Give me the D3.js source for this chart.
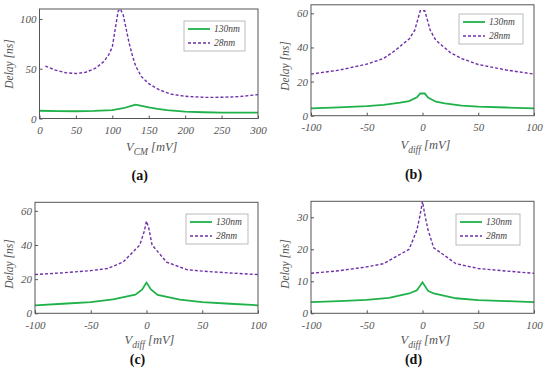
<!DOCTYPE html>
<html>
<head>
<meta charset="utf-8">
<script src="https://cdn.jsdelivr.net/npm/d3@7"></script>
<style>
  html, body { margin: 0; padding: 0; background: #fff; }
  svg { display: block; }
</style>
</head>
<body>
<div id="chart"></div>
<script>
// ---- data ----
const seriesNames = ["130nm", "28nm"];

// (a) delay vs V_CM
const vcmA130 = [0, 25, 50, 75, 100, 115, 125, 132, 140, 150, 162, 175, 200, 225, 250, 275, 300];
const delayA130 = [7.8, 7.5, 7.3, 7.6, 8.4, 10.3, 12.5, 14, 12.8, 11.2, 9.6, 8.4, 7, 6.3, 6, 5.9, 5.9];
const vcmA28 = [8, 22, 36, 50, 63, 77, 88, 95, 100, 104, 108, 111, 115, 119, 123, 128, 132, 140, 150, 164, 180, 200, 228, 250, 274, 300];
const delayA28 = [52.7, 48.6, 46, 45.2, 46.3, 50.5, 57, 64, 72, 90, 108, 110, 104, 90, 76, 62, 52.7, 42, 35, 29, 24.5, 22.3, 21.2, 21.3, 22, 24];

// (b) delay vs V_diff
const vdiffB130 = [-100, -75, -50, -35, -20, -12, -5, -2, 2, 5, 12, 20, 35, 50, 75, 100];
const delayB130 = [4.3, 4.9, 5.6, 6.4, 7.6, 8.6, 10.8, 13, 13, 10.6, 8.2, 7.2, 5.9, 5.3, 4.8, 4.3];
const vdiffB28 = [-100, -75, -50, -35, -25, -12, -7, -4, -2, 2, 4, 7, 12, 25, 35, 50, 75, 100];
const delayB28 = [24.4, 26.7, 30.2, 33.5, 38, 45, 50, 57, 61.5, 61.5, 57, 50, 44.2, 37, 33.5, 30, 26.8, 24.4];

// (c)
const vdiffC130 = [-100, -75, -50, -30, -10, -4, 0, 4, 10, 30, 50, 75, 100];
const delayC130 = [4.7, 5.6, 6.6, 8.2, 10.9, 13.8, 18, 14, 10.8, 8, 6.6, 5.6, 4.7];
const vdiffC28 = [-100, -75, -50, -35, -21, -6, -2, 0, 2, 5, 18, 36, 50, 75, 100];
const delayC28 = [22.7, 23.7, 25, 26.2, 30, 40, 48, 54, 50, 40, 30, 25.6, 24.7, 23.6, 22.7];

// (d)
const vdiffD130 = [-100, -75, -50, -30, -12, -5, 0, 5, 10, 30, 50, 75, 100];
const delayD130 = [3.5, 3.8, 4.2, 4.8, 6.2, 7.2, 9.7, 7, 6.2, 4.7, 4.1, 3.8, 3.5];
const vdiffD28 = [-100, -75, -50, -35, -12, -5, -2, 0, 2, 5, 10, 30, 50, 75, 100];
const delayD28 = [12.5, 13.3, 14.5, 15.5, 20, 26, 31, 35, 31, 26, 20.5, 15.5, 14, 13.2, 12.5];

// tick labels
const xTicksVcm = [0, 50, 100, 150, 200, 250, 300];
const xTicksVdiff = [-100, -50, 0, 50, 100];
const yTicksA = [0, 50, 100];
const yTicksBC = [0, 20, 40, 60];
const yTicksD = [0, 10, 20, 30];

// ---- layout ----
const width = 550, height = 382;
const green = "#1fb14a", purple = "#6f2fa8";
const serif = "'Liberation Serif', 'DejaVu Serif', serif";

const panels = [
  { tag: "a", box: [39.5, 258, 9, 118.5], xDomain: [0, 300], yDomain: [0, 110],
    xTicks: xTicksVcm, yTicks: yTicksA, xSub: "CM",
    s130: [vcmA130, delayA130], s28: [vcmA28, delayA28],
    legend: [184, 21, 61, 30], titleY: 151, capY: 180, ylabX: 13, ylabY: 64 },
  { tag: "b", box: [311, 534, 4.8, 115.7], xDomain: [-100, 100], yDomain: [0, 65],
    xTicks: xTicksVdiff, yTicks: yTicksBC, xSub: "diff",
    s130: [vdiffB130, delayB130], s28: [vdiffB28, delayB28],
    legend: [459, 14, 64, 30], titleY: 149, capY: 179, ylabX: 289, ylabY: 66 },
  { tag: "c", box: [35, 258, 202.3, 313.3], xDomain: [-100, 100], yDomain: [0, 65],
    xTicks: xTicksVdiff, yTicks: yTicksBC, xSub: "diff",
    s130: [vdiffC130, delayC130], s28: [vdiffC28, delayC28],
    legend: [186, 214, 62, 30], titleY: 344, capY: 364, ylabX: 13, ylabY: 264 },
  { tag: "d", box: [311, 534, 201.3, 313.3], xDomain: [-100, 100], yDomain: [0, 35],
    xTicks: xTicksVdiff, yTicks: yTicksD, xSub: "diff",
    s130: [vdiffD130, delayD130], s28: [vdiffD28, delayD28],
    legend: [456, 214, 64, 31], titleY: 344, capY: 364, ylabX: 289, ylabY: 264 }
];

const svg = d3.select("#chart").append("svg")
    .attr("width", width)
    .attr("height", height)
    .attr("viewBox", [0, 0, width, height])
    .attr("font-family", serif);

function drawPanel(p) {
  const [x0, x1, y0, y1] = p.box;
  const x = d3.scaleLinear().domain(p.xDomain).range([x0, x1]);
  const y = d3.scaleLinear().domain(p.yDomain).range([y1, y0]);
  const g = svg.append("g");

  // axes: inward ticks, italic grey labels, plain hyphen minus
  const fmt = d => String(d);
  const xAxis = g.append("g")
      .attr("transform", `translate(0,${y1})`)
      .call(d3.axisBottom(x).tickValues(p.xTicks).tickFormat(fmt).tickSize(-3).tickPadding(8));
  const yAxis = g.append("g")
      .attr("transform", `translate(${x0},0)`)
      .call(d3.axisLeft(y).tickValues(p.yTicks).tickFormat(fmt).tickSize(-3).tickPadding(3));
  [xAxis, yAxis].forEach(a => {
    a.attr("font-family", serif);
    a.select(".domain").remove();
    a.selectAll("line").attr("stroke", "#555");
    a.selectAll("text")
        .attr("font-style", "italic")
        .attr("font-size", 11)
        .attr("fill", "#555");
  });

  // curves
  const line = d3.line().x(d => x(d[0])).y(d => y(d[1]));
  const pts = s => s[0].map((v, i) => [v, s[1][i]]);

  g.append("path")
      .attr("d", line(pts(p.s28)))
      .attr("fill", "none")
      .attr("stroke", purple)
      .attr("stroke-width", 1.4)
      .attr("stroke-dasharray", "3,2");
  g.append("path")
      .attr("d", line(pts(p.s130)))
      .attr("fill", "none")
      .attr("stroke", green)
      .attr("stroke-width", 1.8);

  // frame
  g.append("rect")
      .attr("x", x0).attr("y", y0)
      .attr("width", x1 - x0).attr("height", y1 - y0)
      .attr("fill", "none")
      .attr("stroke", "#555")
      .attr("stroke-width", 1);

  // legend
  const [lx, ly, lw, lh] = p.legend;
  const lg = g.append("g").attr("transform", `translate(${lx},${ly})`);
  lg.append("rect")
      .attr("width", lw).attr("height", lh)
      .attr("fill", "#fff")
      .attr("stroke", "#aaa")
      .attr("stroke-width", 0.8);
  seriesNames.forEach((name, i) => {
    const ry = 8 + i * 14;
    lg.append("line")
        .attr("x1", 4).attr("x2", 26)
        .attr("y1", ry).attr("y2", ry)
        .attr("stroke", i === 0 ? green : purple)
        .attr("stroke-width", i === 0 ? 1.8 : 1.4)
        .attr("stroke-dasharray", i === 0 ? null : "3,2");
    lg.append("text")
        .attr("x", 30).attr("y", ry)
        .attr("dy", "0.33em")
        .attr("font-style", "italic")
        .attr("font-size", 9.5)
        .attr("fill", "#444")
        .text(name);
  });

  // axis titles
  const xt = g.append("text")
      .attr("x", (x0 + x1) / 2 + 3)
      .attr("y", p.titleY)
      .attr("text-anchor", "middle")
      .attr("font-style", "italic")
      .attr("font-size", 12.5)
      .attr("fill", "#555");
  xt.append("tspan").text("V");
  xt.append("tspan").attr("dy", 3.5).attr("font-size", 9.5).text(p.xSub);
  xt.append("tspan").attr("dy", -3.5).text(" [mV]");

  g.append("text")
      .attr("transform", `translate(${p.ylabX},${p.ylabY}) rotate(-90)`)
      .attr("text-anchor", "middle")
      .attr("font-style", "italic")
      .attr("font-size", 11.5)
      .attr("fill", "#555")
      .text("Delay [ns]");

  // caption
  g.append("text")
      .attr("x", (x0 + x1) / 2 - 9)
      .attr("y", p.capY)
      .attr("text-anchor", "middle")
      .attr("font-weight", "bold")
      .attr("font-size", 14)
      .attr("fill", "#111")
      .text(`(${p.tag})`);
}

panels.forEach(drawPanel);
</script>
</body>
</html>
